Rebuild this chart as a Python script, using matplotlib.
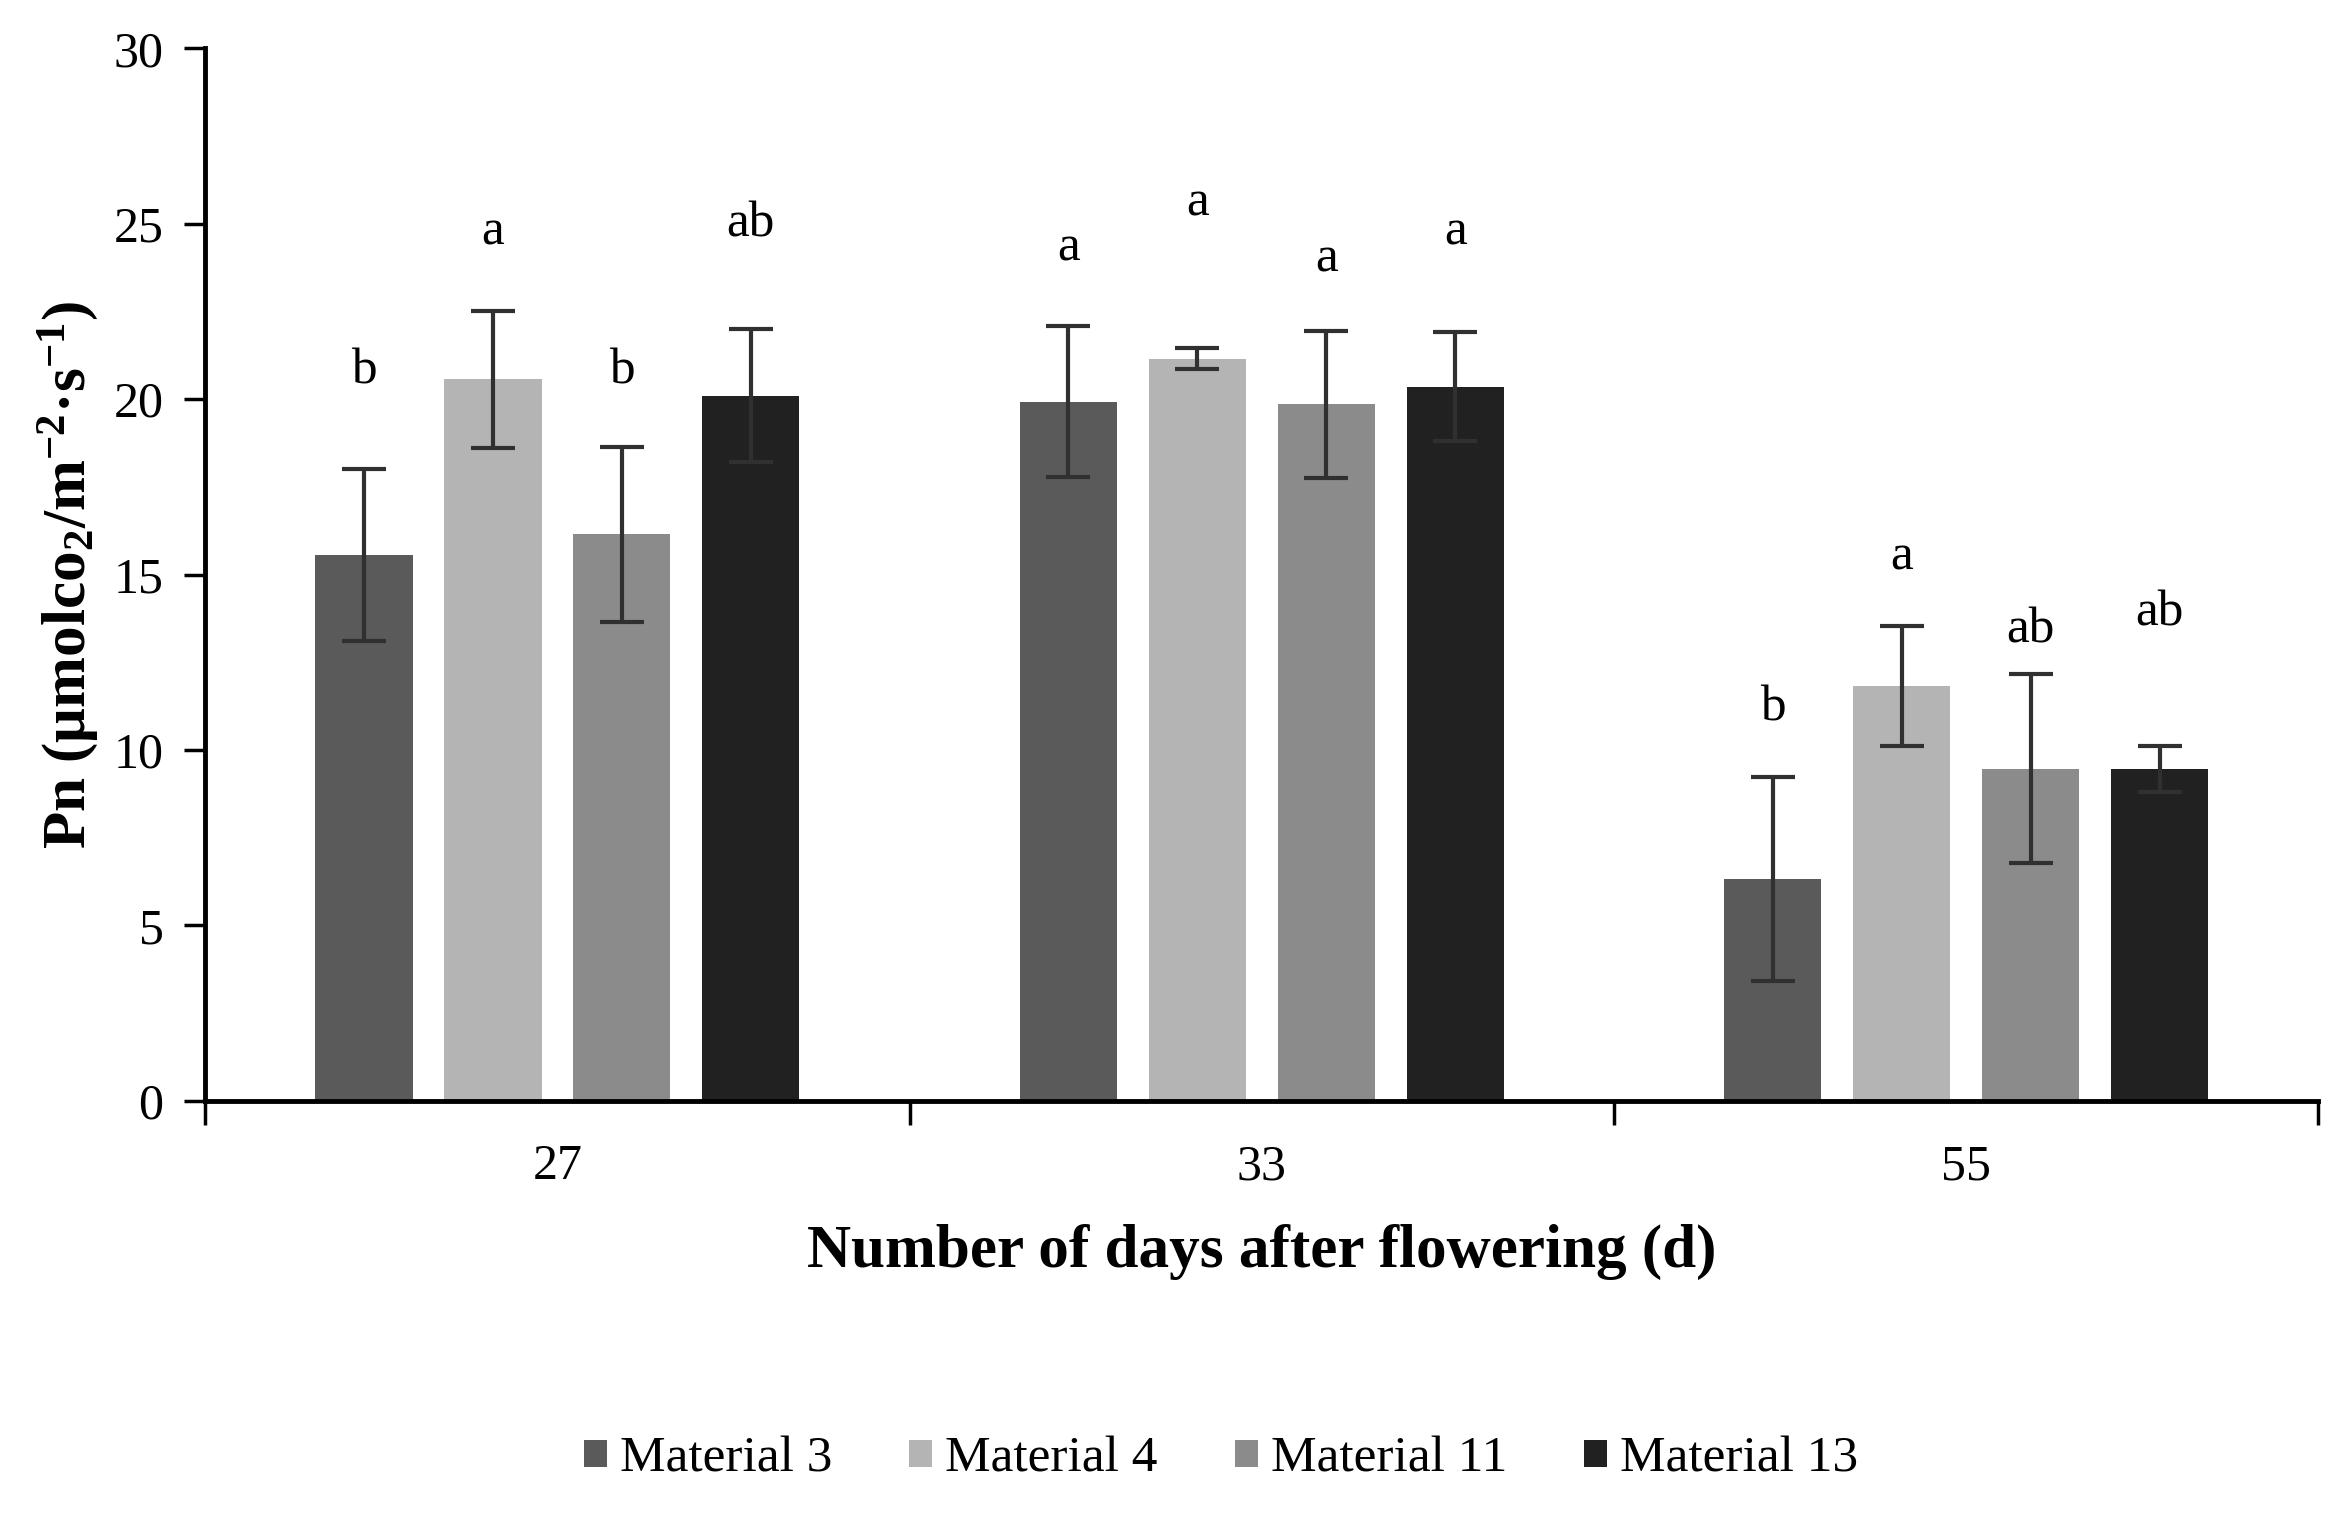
import matplotlib
matplotlib.use("Agg")
import matplotlib.pyplot as plt
import numpy as np

plt.rcParams['font.family'] = ['Liberation Serif', 'DejaVu Serif']
plt.rcParams['mathtext.fontset'] = 'custom'
plt.rcParams['mathtext.rm'] = 'Liberation Serif:bold'
plt.rcParams['mathtext.it'] = 'Liberation Serif:bold'
plt.rcParams['mathtext.bf'] = 'Liberation Serif:bold'
plt.rcParams['mathtext.default'] = 'rm'

categories = ["27", "33", "55"]
series = ["Material 3", "Material 4", "Material 11", "Material 13"]
values = {
    "Material 3": [15.55, 19.93, 6.32],
    "Material 4": [20.57, 21.15, 11.82],
    "Material 11": [16.15, 19.85, 9.47],
    "Material 13": [20.1, 20.36, 9.45],
}
errors = {
    "Material 3": [2.45, 2.15, 2.9],
    "Material 4": [1.95, 0.3, 1.7],
    "Material 11": [2.5, 2.1, 2.7],
    "Material 13": [1.9, 1.55, 0.65],
}
letters = {
    "Material 3": ["b", "a", "b"],
    "Material 4": ["a", "a", "a"],
    "Material 11": ["b", "a", "ab"],
    "Material 13": ["ab", "a", "ab"],
}
letter_y = {
    "Material 3": [20.8, 24.3, 11.2],
    "Material 4": [24.75, 25.6, 15.5],
    "Material 11": [20.8, 24.0, 13.4],
    "Material 13": [25.0, 24.75, 13.9],
}
colors = ["#5a5a5a", "#b4b4b4", "#8b8b8b", "#212121"]

fig = plt.figure(figsize=(23.48, 15.14), dpi=100)
ax = fig.add_axes([0.0874, 0.273, 0.9, 0.695])

x = np.arange(len(categories))
spacing = 0.183
width = 0.138
for i, s in enumerate(series):
    pos = x + (i - 1.5) * spacing
    ax.bar(pos, values[s], width=width, color=colors[i], label=s, zorder=2)
    ax.errorbar(pos, values[s], yerr=errors[s], fmt='none', ecolor='#303030',
                elinewidth=3, capsize=16, capthick=3, zorder=3)
    for p, t, ly in zip(pos, letters[s], letter_y[s]):
        ax.text(p, ly, t, ha='center', va='center', fontsize=37, color='black')

ax.set_xlim(-0.5, 2.5)
ax.set_ylim(0, 30)
ax.set_yticks(np.arange(0, 31, 5))
ax.tick_params(axis='y', labelsize=36, length=15, width=2.5, pad=15, direction='out')
ax.set_xticks([-0.5, 0.5, 1.5, 2.5])
ax.set_xticklabels([])
ax.tick_params(axis='x', length=17, width=2.5, direction='out')
ax.set_xticks(x, minor=True)
ax.set_xticklabels(categories, minor=True)
ax.tick_params(axis='x', which='minor', length=0, labelsize=36, pad=31)

for sp in ['top', 'right']:
    ax.spines[sp].set_visible(False)
for sp in ['left', 'bottom']:
    ax.spines[sp].set_linewidth(3.5)

ax.set_xlabel("Number of days after flowering (d)", fontsize=44, fontweight='bold', labelpad=24)
ax.set_ylabel(r"Pn (μmolco$_2$/m$^{-2}$·s$^{-1}$)", fontsize=44, fontweight='bold', labelpad=10)

fig.legend(loc='center', bbox_to_anchor=(0.52, 0.036), ncol=4, frameon=False,
           fontsize=37, handlelength=0.45, handleheight=0.45, handletextpad=0.25,
           columnspacing=1.5)

fig.savefig("out.png", dpi=100)
